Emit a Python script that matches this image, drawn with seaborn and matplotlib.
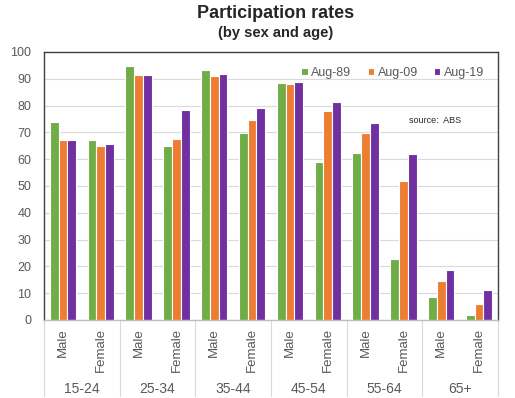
import pandas as pd
import numpy as np
import seaborn as sns
import matplotlib.pyplot as plt
import matplotlib.transforms as mtransforms

ages = ['15-24', '25-34', '35-44', '45-54', '55-64', '65+']
sexes = ['Male', 'Female']
periods = ['Aug-89', 'Aug-09', 'Aug-19']

# participation rate, ordered age group x (Male, Female)
aug89 = [74.0, 67.0, 94.8, 64.8, 93.1, 69.8, 88.5, 59.0, 62.3, 22.8, 8.5, 1.9]
aug09 = [67.3, 64.8, 91.5, 67.7, 91.1, 74.7, 87.9, 78.1, 69.8, 51.9, 14.6, 6.0]
aug19 = [67.0, 65.7, 91.5, 78.4, 91.9, 79.2, 88.9, 81.3, 73.6, 62.0, 18.7, 11.3]

colors = ['#70AD47', '#ED7D31', '#7030A0']

cats = [a + '|' + s for a in ages for s in sexes]
rows = []
for period, vals in zip(periods, [aug89, aug09, aug19]):
    for c, v in zip(cats, vals):
        rows.append({'cat': c, 'period': period, 'rate': v})
df = pd.DataFrame(rows)

sns.set_style('white')
plt.rcParams['font.family'] = ['Liberation Sans', 'DejaVu Sans']

fig = plt.figure(figsize=(5.15, 3.98), dpi=100)
ax = fig.add_axes([44 / 515, 1 - 320 / 398, 454 / 515, 268 / 398])

sns.barplot(data=df, x='cat', y='rate', hue='period', order=cats,
            hue_order=periods, palette=colors, saturation=1, width=0.7,
            edgecolor='white', linewidth=0.8, ax=ax)

ax.set_ylim(0, 100)
ax.set_xlim(-0.5, len(cats) - 0.5)
ax.set_yticks(np.arange(0, 101, 10))
ax.yaxis.grid(True, color='#D9D9D9', linewidth=0.8)
ax.set_axisbelow(True)
ax.set_xlabel('')
ax.set_ylabel('')
ax.tick_params(axis='y', labelsize=9, colors='#595959', length=0, pad=9)
ax.tick_params(axis='x', length=0, pad=6)
ax.set_xticks(range(len(cats)))
ax.set_xticklabels([c.split('|')[1] for c in cats], rotation=90,
                   fontsize=9.5, color='#595959', va='top')
for sp in ax.spines.values():
    sp.set_color('#404040')
    sp.set_linewidth(1.0)
ax.spines['bottom'].set_color('#BFBFBF')

# group labels and separators under the axis
trans = mtransforms.blended_transform_factory(ax.transData, fig.transFigure)
for i, age in enumerate(ages):
    ax.text(2 * i + 0.5, 1 - 389 / 398, age, transform=trans, ha='center',
            va='center', fontsize=10, color='#595959')
for i in range(len(ages) + 1):
    x = 2 * i - 0.5
    ax.plot([x, x], [1 - 320 / 398, 1 - 396 / 398], transform=trans,
            color='#D9D9D9', linewidth=0.8, clip_on=False)

handles, labels = ax.get_legend_handles_labels()
ax.legend(handles, labels, loc='upper right', bbox_to_anchor=(0.995, 0.985),
          ncol=3, frameon=False, fontsize=9, handlelength=0.5,
          handleheight=0.5, handletextpad=0.3, columnspacing=1.3,
          labelcolor='#595959')

ax.text(0.862, 0.746, 'source:  ABS', transform=ax.transAxes, fontsize=6.5,
        ha='center', va='center', color='#262626')

fig.text(0.535, 1 - 14 / 398, 'Participation rates', ha='center',
         va='center', fontsize=13, fontweight='bold')
fig.text(0.535, 1 - 33 / 398, '(by sex and age)', ha='center',
         va='center', fontsize=10.5, fontweight='bold')

fig.savefig('out.png', dpi=100)
